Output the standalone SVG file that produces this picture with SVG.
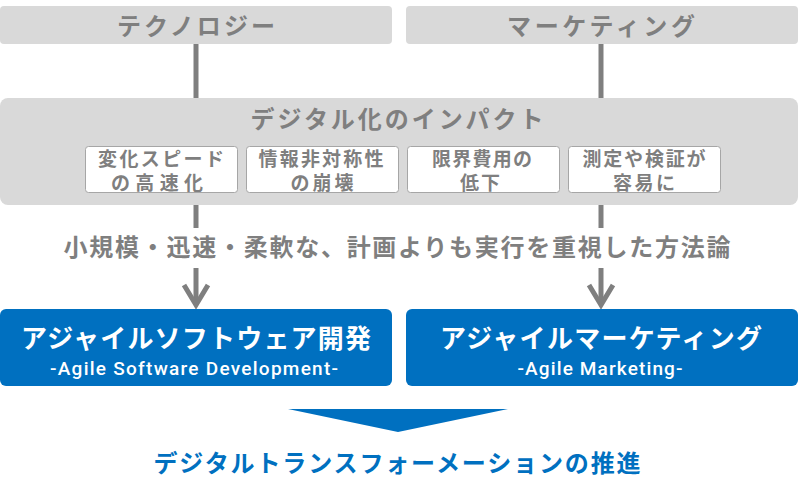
<svg xmlns="http://www.w3.org/2000/svg" width="798" height="492" viewBox="0 0 798 492">
<style>
.gbox{fill:#d9d9d9}
.sbox{fill:#ffffff;stroke:#a6a6a6;stroke-width:1}
.bbox{fill:#0070c0}
.gt{font-family:"Noto Sans CJK JP","Noto Sans",sans-serif;font-weight:bold;fill:#7f7f7f;text-anchor:middle}
.wt{font-family:"Noto Sans CJK JP","Noto Sans",sans-serif;font-weight:bold;fill:#ffffff;text-anchor:middle}
.we{font-family:"Roboto","Liberation Sans",sans-serif;font-weight:500;fill:#ffffff;text-anchor:middle}
.bt{font-family:"Noto Sans CJK JP","Noto Sans",sans-serif;font-weight:bold;fill:#0070c0;text-anchor:middle}
.ln{stroke:#7f7f7f;stroke-width:5;fill:none}
</style>
<rect width="798" height="492" fill="#ffffff"/>
<g id="connectors">
<line class="ln" x1="196" y1="44" x2="196" y2="98"/>
<line class="ln" x1="601" y1="44" x2="601" y2="98"/>
<line class="ln" x1="196" y1="205" x2="196" y2="228"/>
<line class="ln" x1="601" y1="205" x2="601" y2="228"/>
<line class="ln" x1="196" y1="268" x2="196" y2="305"/>
<line class="ln" x1="601" y1="268" x2="601" y2="305"/>
<polyline class="ln" points="184,285 196,305 208,285"/>
<polyline class="ln" points="589,285 601,305 613,285"/>
</g>
<g id="technology">
<rect class="gbox" x="0" y="6" width="392" height="38" rx="4"/>
<text class="gt" x="196" y="35" font-size="24" textLength="158" lengthAdjust="spacing">テクノロジー</text>
</g>
<g id="marketing">
<rect class="gbox" x="406" y="6" width="392" height="38" rx="4"/>
<text class="gt" x="601" y="35" font-size="24" textLength="188" lengthAdjust="spacing">マーケティング</text>
</g>
<g id="impact">
<rect class="gbox" x="0" y="98" width="798" height="107" rx="8"/>
<text class="gt" x="397" y="128" font-size="24" textLength="293" lengthAdjust="spacing">デジタル化のインパクト</text>
</g>
<g id="impact1">
<rect class="sbox" x="85.5" y="146.5" width="152" height="46" rx="3"/>
<text class="gt" x="161" y="166" font-size="19" textLength="126" lengthAdjust="spacing">変化スピード</text>
<text class="gt" x="157" y="190" font-size="19" textLength="92" lengthAdjust="spacing">の高速化</text>
</g>
<g id="impact2">
<rect class="sbox" x="246.5" y="146.5" width="152" height="46" rx="3"/>
<text class="gt" x="321" y="166" font-size="19" textLength="125" lengthAdjust="spacing">情報非対称性</text>
<text class="gt" x="322" y="190" font-size="19" textLength="63" lengthAdjust="spacing">の崩壊</text>
</g>
<g id="impact3">
<rect class="sbox" x="407.5" y="146.5" width="152" height="46" rx="3"/>
<text class="gt" x="482" y="166" font-size="19" textLength="100" lengthAdjust="spacing">限界費用の</text>
<text class="gt" x="480" y="190" font-size="19" textLength="40" lengthAdjust="spacing">低下</text>
</g>
<g id="impact4">
<rect class="sbox" x="568.5" y="146.5" width="152" height="46" rx="3"/>
<text class="gt" x="644" y="166" font-size="19" textLength="123" lengthAdjust="spacing">測定や検証が</text>
<text class="gt" x="644" y="190" font-size="19" textLength="62" lengthAdjust="spacing">容易に</text>
</g>
<g id="method">
<text class="gt" x="397" y="256" font-size="24" textLength="667" lengthAdjust="spacing">小規模・迅速・柔軟な、計画よりも実行を重視した方法論</text>
</g>
<g id="agile-dev">
<rect class="bbox" x="0" y="309" width="392" height="77" rx="6"/>
<text class="wt" x="196" y="348" font-size="26" textLength="350" lengthAdjust="spacing">アジャイルソフトウェア開発</text>
<text class="we" x="194" y="375" font-size="19" textLength="288" lengthAdjust="spacing">-Agile Software Development-</text>
</g>
<g id="agile-mkt">
<rect class="bbox" x="406" y="309" width="392" height="77" rx="6"/>
<text class="wt" x="601" y="348" font-size="26" textLength="322" lengthAdjust="spacing">アジャイルマーケティング</text>
<text class="we" x="600" y="375" font-size="19" textLength="165" lengthAdjust="spacing">-Agile Marketing-</text>
</g>
<g id="dx">
<polygon points="288,409 508,409 398,432" fill="#0070c0"/>
<text class="bt" x="397" y="472" font-size="24" textLength="487" lengthAdjust="spacing">デジタルトランスフォーメーションの推進</text>
</g>
</svg>
